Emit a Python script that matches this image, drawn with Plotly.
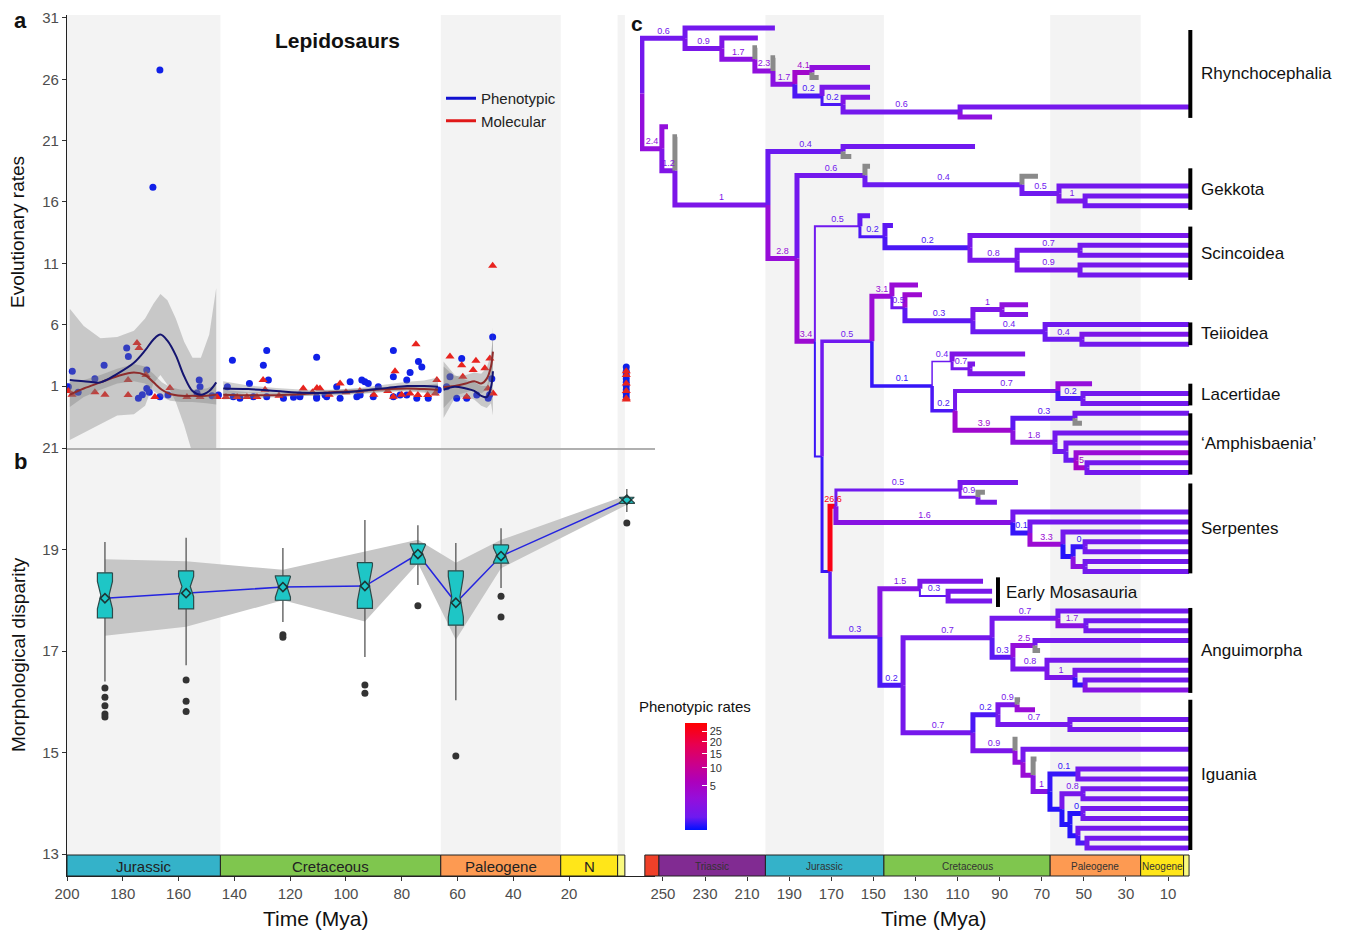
import math
import plotly.graph_objects as go

# the page body adds an 8 px margin, so the figure is laid out in a 1351x925 box starting at (8, 8)
W, H = 1351, 925
OX, OY = 8, 8
FONT = "Liberation Sans, Arial, sans-serif"

# ---------------------------------------------------------------- panel a data
pheno_time = [199.5, 198.1, 196.0, 190.0, 186.7, 178.6, 178.0, 174.4, 173.0, 171.4, 171.4, 170.5, 169.2, 166.7, 166.7, 163.8, 153.4, 152.6, 152.3, 148.0,
              145.7, 142.5, 140.7, 140.4, 138.0, 134.6, 133.2, 129.6, 128.4, 127.8, 128.4, 122.4, 118.8, 116.5, 116.5, 110.5, 110.5, 110.5, 107.5, 106.9,
              103.3, 102.1, 98.5, 96.1, 94.9, 94.3, 93.2, 92.0, 90.2, 88.4, 83.0, 83.0, 83.0, 80.6, 78.2, 78.2, 77.0, 74.6, 74.0, 72.8, 70.5, 66.9,
              63.9, 62.7, 60.3, 58.5, 56.7, 53.1, 49.0, 47.7, 47.4, 48.5,
              -0.5, -0.5, -0.5, -0.5, -0.5, -0.5, -0.5, -0.5, -0.5]
pheno_rate = [0.95, 2.2, 0.5, 1.6, 2.7, 4.1, 3.4, 0.0, 0.3, 0.8, 2.3, 0.5, 17.2, 26.75, 0.13, 0.27, 0.44, 1.5, 0.95, 0.2,
              0.27, 0.95, 3.1, 0.13, 0.0, 1.2, 0.13, 2.7, 3.9, 1.5, 0.13, 0.0, 0.08, 0.13, 0.27, 3.35, 0.0, 0.13, 0.27, 0.13,
              0.95, 0.0, 1.35, 0.13, 0.27, 1.5, 1.35, 1.2, 0.13, 0.95, 3.9, 1.76, 0.13, 0.27, 1.5, 0.27, 2.1, 0.0, 3.0, 2.55, 0.0, 0.67,
              0.95, 1.76, 0.0, 3.25, 0.0, 0.27, 0.0, 1.6, 5.0, 0.3,
              2.55, 2.2, 1.9, 1.6, 1.3, 1.0, 0.7, 0.4, 0.1]
molec_time = [199.5, 198.2, 190.0, 186.4, 178.1, 178.1, 174.9, 174.2, 171.7, 168.5, 163.1, 157.0, 152.3, 146.2,
              143.0, 139.0, 135.5, 131.9, 129.7, 129.0, 124.0, 115.3, 112.0, 110.4, 109.3, 106.0, 102.1, 100.0, 95.0, 90.0, 85.0, 83.0, 82.4, 80.0, 77.0, 74.9, 74.2, 70.7, 68.0, 67.4,
              62.7, 58.5, 58.1, 56.7, 54.4, 53.4, 50.2, 49.1, 48.4, 47.4, 47.2,
              -0.5, -0.5, -0.5, -0.5, -0.5, -0.5]
molec_rate = [0.6, 0.3, 0.5, 0.3, 1.5, 0.27, 4.5, 4.1, 1.9, 0.1, 0.84, 0.1, 0.1, 0.1,
              0.1, 0.1, 0.1, 0.1, 1.5, 0.7, 0.2, 0.8, 0.5, 0.84, 0.8, 0.3, 1.2, 0.5, 0.6, 0.3, 0.6, 0.13, 2.2, 0.3, 0.4, 4.4, 0.27, 0.27, 0.4, 1.5,
              3.4, 2.7, 1.76, 0.13, 2.3, 3.06, 2.45, 0.8, 3.25, 10.8, 0.4,
              2.2, 1.9, 1.2, 0.6, 0.0, -0.1]

# smoothed fits per period segment
ph_j_time = [199, 194, 188, 182, 176, 172, 169, 166.5, 164, 161, 158, 155, 152, 149, 146.5]
ph_j_fit = [1.5, 1.4, 1.3, 2.0, 2.9, 3.9, 4.8, 5.2, 4.7, 3.5, 1.8, 0.6, 0.3, 0.6, 1.3]
ph_j_hi = [7.3, 5.9, 4.9, 5.0, 5.5, 6.5, 7.7, 8.5, 8.0, 6.5, 4.6, 3.3, 3.3, 5.2, 9.0]
ph_j_lo = [-3.4, -2.8, -2.1, -1.4, -1.3, -0.6, 1.2, 1.9, 1.1, -0.3, -2.2, -4.5, -5.0, -5.0, -5.0]
mo_j_time = [199, 194, 188, 182, 176, 172, 169, 166, 163, 159, 155, 150, 146.5]
mo_j_fit = [0.3, 0.8, 1.3, 1.8, 2.1, 1.9, 1.3, 0.7, 0.35, 0.2, 0.2, 0.2, 0.3]
mo_j_hi = [1.3, 1.5, 1.9, 2.4, 2.8, 2.6, 2.0, 1.3, 0.9, 0.7, 0.7, 0.8, 1.1]
mo_j_lo = [-0.7, 0.1, 0.7, 1.2, 1.4, 1.2, 0.6, 0.1, -0.2, -0.3, -0.3, -0.4, -0.5]

cr_time = [144, 135, 125, 115, 105, 95, 85, 78, 72, 67]
ph_c_fit = [0.8, 0.75, 0.6, 0.45, 0.45, 0.6, 0.85, 1.0, 1.0, 0.95]
ph_c_hi = [1.4, 1.05, 0.85, 0.7, 0.7, 0.85, 1.15, 1.35, 1.45, 1.7]
ph_c_lo = [0.2, 0.45, 0.35, 0.2, 0.2, 0.35, 0.55, 0.65, 0.55, 0.2]
mo_c_fit = [0.3, 0.25, 0.25, 0.35, 0.5, 0.6, 0.75, 0.8, 0.75, 0.7]
mo_c_hi = [0.7, 0.5, 0.45, 0.55, 0.7, 0.8, 0.95, 1.05, 1.05, 1.2]
mo_c_lo = [-0.1, 0.0, 0.05, 0.15, 0.3, 0.4, 0.55, 0.55, 0.45, 0.2]

pg_time = [65, 61, 57, 54, 51.5, 49.5, 48, 47.3]
ph_p_fit = [0.7, 0.95, 0.8, 0.6, 0.2, 0.1, 0.9, 2.2]
ph_p_hi = [3.0, 1.9, 1.5, 1.3, 1.0, 1.0, 2.2, 5.8]
ph_p_lo = [-1.6, 0.0, 0.1, -0.1, -0.6, -0.8, -0.4, -1.4]
mo_p_fit = [0.9, 1.0, 1.2, 1.4, 1.2, 1.6, 2.6, 3.8]
mo_p_hi = [2.6, 1.8, 1.9, 2.1, 2.0, 2.5, 3.6, 5.0]
mo_p_lo = [-0.8, 0.2, 0.5, 0.7, 0.4, 0.7, 1.6, 2.6]

# ---------------------------------------------------------------- panel b data
box_time = [186.4, 157.3, 122.6, 93.2, 74.2, 60.6, 44.4, -0.7]
box_upper = [19.15, 19.23, 19.03, 19.58, 19.48, 19.13, 19.42, 20.19]
box_q3 = [18.54, 18.58, 18.48, 18.74, 19.11, 18.58, 19.09, 20.03]
box_median = [18.10, 18.27, 18.26, 18.33, 18.94, 18.07, 18.89, 19.98]
box_q1 = [17.65, 17.83, 18.00, 17.84, 18.71, 17.51, 18.73, 19.91]
box_lower = [16.40, 16.72, 17.57, 16.88, 18.30, 16.03, 18.24, 19.74]
box_notch = [0.27, 0.20, 0.20, 0.35, 0.15, 0.40, 0.14, 0.06]
box_mean = [18.04, 18.14, 18.26, 18.28, 18.91, 17.95, 18.87, 19.98]
band_upper = [18.81, 18.77, 18.60, 18.96, 19.19, 18.74, 19.19, 20.07]
band_lower = [17.30, 17.48, 18.00, 17.58, 18.73, 17.22, 18.63, 19.88]
outlier_time = [186.4, 186.4, 186.4, 186.4, 186.4, 157.3, 157.3, 157.3, 122.6, 122.6, 93.2, 93.2, 74.2, 60.6, 44.4, 44.4, -0.7]
outlier_value = [16.27, 16.09, 15.92, 15.76, 15.70, 16.43, 16.01, 15.81, 17.32, 17.27, 16.33, 16.17, 17.89, 14.93, 18.08, 17.67, 19.52]
BOX_HALF = 2.7      # half box width (Mya)
NOTCH_DEPTH = 0.45  # fraction of half width removed at the median

# geological periods
per_ab_name = ['Jurassic', 'Cretaceous', 'Paleogene', 'N', '']
per_ab_start = [200, 145, 66, 23, 2.6]
per_ab_end = [145, 66, 23, 2.6, 0]
per_ab_color = ['#34B2C9', '#7FC64E', '#FD9A52', '#FFE619', '#F9F97F']
per_c_name = ['', 'Triassic', 'Jurassic', 'Cretaceous', 'Paleogene', 'Neogene', '']
per_c_start = [258.6, 251.9, 201.3, 145, 66, 23, 2.6]
per_c_end = [251.9, 201.3, 145, 66, 23, 2.6, 0]
per_c_color = ['#F04028', '#812B92', '#34B2C9', '#7FC64E', '#FD9A52', '#FFE619', '#F9F97F']
shade_ab_start = [200, 66, 2.6]
shade_ab_end = [145, 23, 0]
shade_c_start = [201.3, 66]
shade_c_end = [145, 23]

# ---------------------------------------------------------------- panel c tree (preorder)
tree_node = [
    'root', 'Rh1', 'tip', 'Rh2', 'tip', 'Rh3', 'tip', 'Rh4', 'tip', 'Rh5', 'Rh6', 'tip', 'tip', 'Rh7', 'tip', 'Rh8', 'tip', 'Rh9', 'tip', 'tip',
    'S1', 'tip', 'S2', 'tip', 'S3', 'S4', 'tip', 'tip', 'S5', 'S6', 'tip', 'Gk0', 'tip', 'Gk1', 'tip', 'Gk2', 'tip', 'tip',
    'S7', 'Sc0', 'tip', 'Sc1', 'tip', 'Sc2', 'tip', 'Sc3', 'Sc4', 'tip', 'tip', 'Sc5', 'tip', 'tip',
    'S8', 'L0', 'Te0', 'tip', 'Te1', 'tip', 'Te2', 'Te3', 'tip', 'tip', 'Te4', 'tip', 'Te5', 'tip', 'tip',
    'L1', 'La0', 'tip', 'La1', 'tip', 'tip', 'La2', 'La3', 'tip', 'La4', 'tip', 'tip', 'Am0', 'Am1', 'tip', 'tip', 'Am2', 'tip', 'Am3', 'tip', 'Am4', 'tip', 'Am5', 'tip', 'tip',
    'S9', 'Se0', 'Se1', 'tip', 'Se2', 'tip', 'tip', 'Se3', 'tip', 'Se4', 'tip', 'Se5', 'tip', 'Se6', 'Se7', 'tip', 'tip', 'Se8', 'tip', 'tip',
    'AI0', 'Mo0', 'tip', 'Mo1', 'tip', 'tip', 'AI1', 'An0', 'An1', 'tip', 'An2', 'tip', 'tip', 'An3', 'An4', 'tip', 'tip', 'An5', 'tip', 'An6', 'tip', 'An7', 'tip', 'tip',
    'Ig0', 'Ig1', 'Ig2', 'tip', 'tip', 'Ig3', 'tip', 'tip', 'Ig4', 'tip', 'Ig5', 'tip', 'Ig6', 'tip', 'Ig7', 'Ig8', 'tip', 'tip', 'Ig9', 'Ig10', 'tip', 'tip', 'Ig11', 'Ig12', 'tip', 'tip', 'Ig13', 'tip', 'Ig14', 'tip', 'tip',
]
tree_parent = [
    None, 'root', 'Rh1', 'Rh1', 'Rh2', 'Rh2', 'Rh3', 'Rh3', 'Rh4', 'Rh4', 'Rh5', 'Rh6', 'Rh6', 'Rh5', 'Rh7', 'Rh7', 'Rh8', 'Rh8', 'Rh9', 'Rh9',
    'root', 'S1', 'S1', 'S2', 'S2', 'S3', 'S4', 'S4', 'S3', 'S5', 'S6', 'S6', 'Gk0', 'Gk0', 'Gk1', 'Gk1', 'Gk2', 'Gk2',
    'S5', 'S7', 'Sc0', 'Sc0', 'Sc1', 'Sc1', 'Sc2', 'Sc2', 'Sc3', 'Sc4', 'Sc4', 'Sc3', 'Sc5', 'Sc5',
    'S7', 'S8', 'L0', 'Te0', 'Te0', 'Te1', 'Te1', 'Te2', 'Te3', 'Te3', 'Te2', 'Te4', 'Te4', 'Te5', 'Te5',
    'L0', 'L1', 'La0', 'La0', 'La1', 'La1', 'L1', 'La2', 'La3', 'La3', 'La4', 'La4', 'La2', 'Am0', 'Am1', 'Am1', 'Am0', 'Am2', 'Am2', 'Am3', 'Am3', 'Am4', 'Am4', 'Am5', 'Am5',
    'S8', 'S9', 'Se0', 'Se1', 'Se1', 'Se2', 'Se2', 'Se0', 'Se3', 'Se3', 'Se4', 'Se4', 'Se5', 'Se5', 'Se6', 'Se7', 'Se7', 'Se6', 'Se8', 'Se8',
    'S9', 'AI0', 'Mo0', 'Mo0', 'Mo1', 'Mo1', 'AI0', 'AI1', 'An0', 'An1', 'An1', 'An2', 'An2', 'An0', 'An3', 'An4', 'An4', 'An3', 'An5', 'An5', 'An6', 'An6', 'An7', 'An7',
    'AI1', 'Ig0', 'Ig1', 'Ig2', 'Ig2', 'Ig1', 'Ig3', 'Ig3', 'Ig0', 'Ig4', 'Ig4', 'Ig5', 'Ig5', 'Ig6', 'Ig6', 'Ig7', 'Ig8', 'Ig8', 'Ig7', 'Ig9', 'Ig10', 'Ig10', 'Ig9', 'Ig11', 'Ig12', 'Ig12', 'Ig11', 'Ig13', 'Ig13', 'Ig14', 'Ig14',
]
tree_age = [
    260.0, 239.5, 196.8, 222.0, 204.9, 206.3, 205.3, 197.7, 196.7, 187.3, 179.2, 151.6, 176.0, 174.4, 151.6, 164.4, 151.6, 108.8, 0, 93.6,
    250.5, 247.6, 244.3, 243.3, 200.1, 164.4, 101.7, 160.5, 186.3, 154.0, 151.6, 79.4, 71.8, 61.8, 0, 49.4, 0, 0,
    177.8, 156.4, 151.6, 144.5, 140.7, 104.1, 0, 81.7, 51.8, 0, 0, 51.8, 0, 0,
    174.4, 150.7, 141.2, 128.8, 135.0, 126.9, 102.7, 88.9, 76.5, 76.5, 68.4, 0, 50.9, 0, 0,
    122.1, 112.6, 77.9, 104.1, 101.7, 77.9, 111.2, 62.3, 46.1, 50.4, 0, 0, 83.7, 54.2, 0, 50.9, 63.7, 0, 58.5, 0, 53.7, 0, 48.5, 0, 0,
    170.6, 167.8, 108.8, 81.3, 100.3, 97.0, 91.3, 83.7, 0, 75.6, 0, 59.9, 0, 55.1, 49.4, 0, 0, 49.4, 0, 0,
    146.9, 127.9, 97.9, 114.5, 93.6, 93.6, 135.9, 93.6, 62.3, 0, 49.0, 0, 0, 83.7, 73.2, 0, 70.8, 67.5, 0, 54.2, 0, 49.4, 0, 0,
    102.7, 90.8, 81.7, 80.3, 73.2, 56.6, 0, 0, 82.7, 81.5, 78.9, 0, 74.1, 72.5, 66.1, 52.8, 0, 0, 60.4, 50.4, 0, 0, 56.6, 50.4, 0, 0, 52.8, 0, 48.5, 0, 0,
]
tree_rate = [
    None, 0.6, 0.6, 0.9, 1.2, 1.7, None, 2.3, None, 1.7, 4.1, 2.2, None, 0.2, 0.9, 0.2, 1.2, 0.6, 0.7, 2.0,
    2.4, 2.4, 1.2, None, 1.0, 0.4, 0.5, None, 2.8, 0.6, None, 0.4, None, 0.5, 0.6, 1.0, 0.6, 0.5,
    3.4, 0.5, 0.35, 0.2, 0.3, 0.2, 0.8, 0.8, 0.7, 0.6, 0.6, 0.9, 0.7, 0.6,
    0.12, 0.5, 3.1, 3.0, 0.5, 3.5, 0.3, 1.0, 2.2, 1.3, 0.4, 0.5, 0.4, 1.0, 0.6,
    0.1, 0.4, 1.2, 0.7, 1.0, 1.0, 0.2, 0.7, 2.5, 0.2, 0.6, 0.6, 3.9, 0.3, 0.6, None, 1.8, 0.6, 0.5, 0.7, 0.4, 3.0, 5.0, 0.6, 0.6,
    0.12, 26.6, 0.5, 0.7, 0.9, None, 0.8, 1.6, 0.6, 0.1, 0.6, 3.3, 0.6, 0.05, 0.1, 0.6, 0.6, 2.0, 0.6, 0.6,
    0.3, 1.5, 1.0, 0.3, 0.8, 0.8, 0.2, 0.7, 0.7, 0.6, 1.7, 0.5, 0.6, 0.3, 2.5, 0.6, None, 0.8, 0.7, 1.0, 0.7, 0.1, 0.6, 1.5,
    0.7, 0.2, 0.9, None, 3.0, 0.7, 0.6, 0.6, 0.9, None, 2.5, 0.7, 3.0, None, 1.5, 0.1, 0.6, 0.6, 0.05, 0.8, 0.6, 0.6, 0.05, 0.05, 0.6, 0.6, 0.05, 0.6, 0.2, 0.6, 0.6,
]
tree_label = [
    '', '0.6', '', '0.9', '', '1.7', '', '2.3', '', '1.7', '4.1', '', '', '0.2', '', '0.2', '', '0.6', '', '',
    '2.4', '', '1.2', '', '1', '0.4', '', '', '2.8', '0.6', '', '0.4', '', '0.5', '', '1', '', '',
    '3.4', '0.5', '', '0.2', '', '0.2', '', '0.8', '0.7', '', '', '0.9', '', '',
    '', '0.5', '3.1', '', '0.5', '', '0.3', '1', '', '', '0.4', '', '0.4', '', '',
    '0.1', '0.4', '', '0.7', '', '', '0.2', '0.7', '', '0.2', '', '', '3.9', '0.3', '', '', '1.8', '', '', '', '', '', '5', '', '',
    '', '26.6', '0.5', '', '0.9', '', '', '1.6', '', '0.1', '', '3.3', '', '', '0', '', '', '', '', '',
    '0.3', '1.5', '', '0.3', '', '', '0.2', '0.7', '0.7', '', '1.7', '', '', '0.3', '2.5', '', '', '0.8', '', '1', '', '', '', '',
    '0.7', '0.2', '0.9', '', '', '0.7', '', '', '0.9', '', '', '', '', '', '1', '0.1', '', '', '', '0.8', '', '', '', '0', '', '', '', '', '', '', '',
]
tree_width = [
    0, 5, 5, 5, 5, 5, 5, 5, 5, 5, 5, 5, 5, 5, 5, 3, 5, 5, 5, 5,
    5, 5, 5, 5, 5, 5, 5, 5, 5, 5, 5, 5, 5, 5, 5, 5, 5, 5,
    5, 2, 5, 3, 5, 5, 5, 5, 5, 5, 5, 5, 5, 5,
    2, 3.5, 5, 5, 3, 5, 5, 5, 5, 5, 5, 5, 5, 5, 5,
    3.5, 1.5, 5, 3, 5, 5, 3.5, 4, 5, 5, 5, 5, 5, 5, 5, 5, 5, 5, 5, 5, 5, 5, 5, 5, 5,
    3, 5, 3, 5, 3, 5, 5, 5, 5, 5, 5, 5, 5, 5, 5, 5, 5, 5, 5, 5,
    3.5, 5, 5, 2, 5, 5, 5, 5, 5, 5, 5, 5, 5, 5, 5, 5, 5, 5, 5, 5, 5, 5, 5, 5,
    5, 5, 5, 5, 5, 5, 5, 5, 5, 5, 5, 5, 5, 5, 5, 5, 5, 5, 5, 5, 5, 5, 5, 5, 5, 5, 5, 5, 5, 5, 5,
]

clade_name = ['Rhynchocephalia', 'Gekkota', 'Scincoidea', 'Teiioidea', 'Lacertidae', '\u2018Amphisbaenia\u2019',
              'Serpentes', 'Early Mosasauria', 'Anguimorpha', 'Iguania']
clade_row_top = [0.2, 14.2, 20.1, 29.8, 36.0, 39.0, 46.1, 55.6, 58.7, 68.0]
clade_row_bottom = [9.1, 18.4, 25.5, 32.1, 38.2, 45.2, 55.2, 58.6, 67.3, 83.2]
clade_bar_age = [-0.6, -0.6, -0.6, -0.6, -0.6, -0.6, -0.6, 90.8, -0.6, -0.6]
clade_text_age = [-4.6, -4.6, -4.6, -4.6, -4.6, -4.6, -4.6, 87.9, -4.6, -4.6]

colorbar_ticks = [5, 10, 15, 20, 25]
RATE_MAX = 29.5

# ---------------------------------------------------------------- helpers
N = len(tree_node)
assert all(len(a) == N for a in [tree_parent, tree_age, tree_rate, tree_label, tree_width])

stops = [0.0, 0.12, 0.3, 0.45, 0.6, 0.8, 1.0]
stop_rgb = [(0, 16, 255), (110, 26, 240), (150, 14, 218), (172, 0, 188), (200, 0, 144), (232, 0, 80), (255, 0, 0)]
colorscale = [[s, 'rgb(%d,%d,%d)' % c] for s, c in zip(stops, stop_rgb)]
SMAX = math.sqrt(RATE_MAX)


def rate_color(r):
    if r is None:
        return '#8a8a8a'
    f = min(1.0, math.sqrt(max(r, 0)) / SMAX)
    for k in range(len(stops) - 1):
        if stops[k] <= f <= stops[k + 1]:
            t = (f - stops[k]) / (stops[k + 1] - stops[k])
            a, b = stop_rgb[k], stop_rgb[k + 1]
            return 'rgb(%d,%d,%d)' % tuple(round(a[i] + (b[i] - a[i]) * t) for i in range(3))
    return 'rgb(255,0,0)'


def px(p):
    return (p - OX) / W


def py(p):
    return 1 - (p - OY) / H


fig = go.Figure()

# ---------------------------------------------------------------- panel a traces
fig.add_trace(go.Scatter(x=pheno_time, y=pheno_rate, mode='markers', xaxis='x', yaxis='y',
                         marker=dict(symbol='circle', size=7, color='#1020e8'), showlegend=False, hoverinfo='skip'))
fig.add_trace(go.Scatter(x=molec_time, y=molec_rate, mode='markers', xaxis='x', yaxis='y',
                         marker=dict(symbol='triangle-up', size=8, color='#e8231e'), showlegend=False, hoverinfo='skip'))

ribbons = [(ph_j_time, ph_j_hi, ph_j_lo), (mo_j_time, mo_j_hi, mo_j_lo),
           (cr_time, ph_c_hi, ph_c_lo), (cr_time, mo_c_hi, mo_c_lo),
           (pg_time, ph_p_hi, ph_p_lo), (pg_time, mo_p_hi, mo_p_lo)]
for tt, hi, lo in ribbons:
    fig.add_trace(go.Scatter(x=list(tt) + list(tt)[::-1], y=list(hi) + list(lo)[::-1], fill='toself',
                             fillcolor='rgba(120,120,120,0.35)', line=dict(width=0), mode='lines',
                             xaxis='x', yaxis='y', showlegend=False, hoverinfo='skip'))

ph_t = ph_j_time + [None] + cr_time + [None] + pg_time
ph_v = ph_j_fit + [None] + ph_c_fit + [None] + ph_p_fit
mo_t = mo_j_time + [None] + cr_time + [None] + pg_time
mo_v = mo_j_fit + [None] + mo_c_fit + [None] + mo_p_fit
fig.add_trace(go.Scatter(x=mo_t, y=mo_v, mode='lines', line=dict(color='#8e2c2c', width=2, shape='spline'),
                         xaxis='x', yaxis='y', showlegend=False, hoverinfo='skip', connectgaps=False))
fig.add_trace(go.Scatter(x=ph_t, y=ph_v, mode='lines', line=dict(color='#141470', width=2, shape='spline'),
                         xaxis='x', yaxis='y', showlegend=False, hoverinfo='skip', connectgaps=False))
fig.add_trace(go.Scatter(x=[None], y=[None], mode='lines', name='Phenotypic', line=dict(color='#1010d0', width=3),
                         xaxis='x', yaxis='y'))
fig.add_trace(go.Scatter(x=[None], y=[None], mode='lines', name='Molecular', line=dict(color='#e01818', width=3),
                         xaxis='x', yaxis='y'))

# ---------------------------------------------------------------- panel b traces
fig.add_trace(go.Scatter(x=box_time + box_time[::-1], y=band_upper + band_lower[::-1], fill='toself',
                         fillcolor='#c6c6c6', line=dict(width=0), mode='lines', xaxis='x2', yaxis='y2',
                         showlegend=False, hoverinfo='skip'))
fig.add_trace(go.Scatter(x=box_time, y=box_mean, mode='lines', line=dict(color='#2424e0', width=1.5),
                         xaxis='x2', yaxis='y2', showlegend=False, hoverinfo='skip'))
wx, wy = [], []
for t, lo, q1, q3, hi in zip(box_time, box_lower, box_q1, box_q3, box_upper):
    wx += [t, t, None, t, t, None]
    wy += [q3, hi, None, lo, q1, None]
fig.add_trace(go.Scatter(x=wx, y=wy, mode='lines', line=dict(color='#555555', width=1.3),
                         xaxis='x2', yaxis='y2', showlegend=False, hoverinfo='skip'))
for t, q1, m, q3, n in zip(box_time, box_q1, box_median, box_q3, box_notch):
    top = min(q3, m + n)
    bot = max(q1, m - n)
    inner = BOX_HALF * (1 - NOTCH_DEPTH)
    bx = [t - BOX_HALF, t - BOX_HALF, t - inner, t - BOX_HALF, t - BOX_HALF,
          t + BOX_HALF, t + BOX_HALF, t + inner, t + BOX_HALF, t + BOX_HALF, t - BOX_HALF]
    by = [q3, top, m, bot, q1, q1, bot, m, top, q3, q3]
    fig.add_trace(go.Scatter(x=bx, y=by, mode='lines', fill='toself', fillcolor='#1ec6c6',
                             line=dict(color='#2c4a4a', width=1.2), xaxis='x2', yaxis='y2',
                             showlegend=False, hoverinfo='skip'))
fig.add_trace(go.Scatter(x=box_time, y=box_mean, mode='markers',
                         marker=dict(symbol='diamond-open', size=7, color='#1d3535', line=dict(width=1.6)),
                         xaxis='x2', yaxis='y2', showlegend=False, hoverinfo='skip'))
fig.add_trace(go.Scatter(x=outlier_time, y=outlier_value, mode='markers', marker=dict(size=7, color='#333333'),
                         xaxis='x2', yaxis='y2', showlegend=False, hoverinfo='skip'))

# ---------------------------------------------------------------- panel c tree
idx = {n: i for i, n in enumerate(tree_node) if n != 'tip'}
children = {i: [] for i in range(N)}
for i, p in enumerate(tree_parent):
    if p is not None:
        children[idx[p]].append(i)
ys = [0.0] * N
row = 0
for i in range(N):
    if not children[i]:
        ys[i] = row
        row += 1
for i in reversed(range(N)):
    if children[i]:
        ys[i] = sum(ys[c] for c in children[i]) / len(children[i])

lab_x, lab_y, lab_t, lab_c = [], [], [], []
mid_x, mid_y, mid_c = [], [], []
for i in range(N):
    p = tree_parent[i]
    if p is None:
        continue
    pi = idx[p]
    col = rate_color(tree_rate[i])
    fig.add_trace(go.Scatter(x=[tree_age[pi], tree_age[pi], tree_age[i]], y=[ys[pi], ys[i], ys[i]],
                             mode='lines', line=dict(color=col, width=tree_width[i]),
                             xaxis='x3', yaxis='y3', showlegend=False, hoverinfo='skip'))
    xm = (tree_age[pi] + tree_age[i]) / 2
    if tree_label[i]:
        lab_x.append(xm)
        lab_y.append(ys[i] - 0.7)
        lab_t.append(tree_label[i])
        lab_c.append(col)
    if tree_rate[i] is not None:
        mid_x.append(xm)
        mid_y.append(ys[i])
        mid_c.append(math.sqrt(tree_rate[i]))

fig.add_trace(go.Scatter(x=lab_x, y=lab_y, text=lab_t, mode='text', textfont=dict(size=9, color=lab_c, family=FONT),
                         xaxis='x3', yaxis='y3', showlegend=False, hoverinfo='skip'))
fig.add_trace(go.Scatter(
    x=mid_x, y=mid_y, mode='markers', xaxis='x3', yaxis='y3', showlegend=False, hoverinfo='skip',
    marker=dict(size=1, opacity=0, color=mid_c, cmin=0, cmax=SMAX, colorscale=colorscale, showscale=True,
                colorbar=dict(x=px(685), xanchor='left', y=py(830), yanchor='bottom', len=107 / H, lenmode='fraction',
                              thickness=22, thicknessmode='pixels', outlinewidth=0, xpad=0, ypad=0,
                              tickvals=[math.sqrt(v) for v in colorbar_ticks], ticktext=[str(v) for v in colorbar_ticks],
                              ticks='inside', ticklen=5, tickcolor='white',
                              tickfont=dict(size=11, color='#333', family=FONT)))))

# ---------------------------------------------------------------- shapes & annotations
shapes = []
ann = []
for s, e in zip(shade_ab_start, shade_ab_end):
    shapes.append(dict(type='rect', xref='x', yref='paper', x0=s, x1=e, y0=py(855), y1=py(15),
                       fillcolor='#f3f3f3', line=dict(width=0), layer='below'))
for s, e in zip(shade_c_start, shade_c_end):
    shapes.append(dict(type='rect', xref='x3', yref='paper', x0=s, x1=e, y0=py(855), y1=py(15),
                       fillcolor='#f3f3f3', line=dict(width=0), layer='below'))
for nm, s, e, c in zip(per_ab_name, per_ab_start, per_ab_end, per_ab_color):
    shapes.append(dict(type='rect', xref='x2', yref='paper', x0=s, x1=e, y0=py(876), y1=py(855),
                       fillcolor=c, line=dict(color='#222', width=1)))
    if nm:
        ann.append(dict(text=nm, x=(s + e) / 2, y=py(866), xref='x2', yref='paper', showarrow=False,
                        xanchor='center', yanchor='middle', font=dict(size=15, color='#222', family=FONT)))
for nm, s, e, c in zip(per_c_name, per_c_start, per_c_end, per_c_color):
    shapes.append(dict(type='rect', xref='x3', yref='paper', x0=s, x1=e, y0=py(876), y1=py(855),
                       fillcolor=c, line=dict(color='#222', width=1)))
    if nm:
        ann.append(dict(text=nm, x=(s + e) / 2, y=py(866), xref='x3', yref='paper', showarrow=False,
                        xanchor='center', yanchor='middle', font=dict(size=10, color='#333', family=FONT)))
for nm, t0, t1, xa, xt in zip(clade_name, clade_row_top, clade_row_bottom, clade_bar_age, clade_text_age):
    shapes.append(dict(type='line', xref='x3', yref='y3', x0=xa, x1=xa, y0=t0, y1=t1, line=dict(color='black', width=4)))
    ann.append(dict(text=nm, x=xt, y=(t0 + t1) / 2, xref='x3', yref='y3', showarrow=False, xanchor='left',
                    yanchor='middle', font=dict(size=17, color='#111', family=FONT)))


def add_text(text, xp, yp, size, bold=False, angle=0, color='#111'):
    ann.append(dict(text=('<b>%s</b>' % text) if bold else text, x=px(xp), y=py(yp), xref='paper', yref='paper',
                    showarrow=False, textangle=angle, xanchor='center', yanchor='middle',
                    font=dict(size=size, color=color, family=FONT)))


add_text('a', 20, 21, 22, bold=True)
add_text('b', 20, 461, 22, bold=True)
add_text('c', 637, 23, 21, bold=True)
add_text('Lepidosaurs', 337, 41, 21, bold=True)
add_text('Evolutionary rates', 18, 232, 19, angle=-90)
add_text('Morphological disparity', 18, 655, 19, angle=-90)
add_text('Time (Mya)', 315, 918, 21)
add_text('Time (Mya)', 933, 918, 21)
add_text('Phenotypic rates', 695, 706, 15)

tick_font = dict(size=15, color='#4d4d4d', family=FONT)
fig.update_layout(
    width=W, height=H, margin=dict(l=0, r=0, t=0, b=0, autoexpand=False), paper_bgcolor='white',
    plot_bgcolor='rgba(0,0,0,0)', shapes=shapes, annotations=ann, font=dict(family=FONT),
    legend=dict(x=px(441), y=py(82), xanchor='left', yanchor='top', bgcolor='rgba(0,0,0,0)',
                font=dict(size=15, color='#222', family=FONT), tracegroupgap=0),
    xaxis=dict(domain=[px(67), px(655)], range=[200, -10.8], anchor='y', showticklabels=False, ticks='',
               showline=True, linecolor='#b0b0b0', linewidth=1.5, showgrid=False, zeroline=False, automargin=False),
    yaxis=dict(domain=[py(448), py(15)], range=[-4.05, 31.24], anchor='x', tickvals=[1, 6, 11, 16, 21, 26, 31],
               ticks='outside', ticklen=4, tickcolor='#333', showline=True, linecolor='#222', linewidth=1.2,
               showgrid=False, zeroline=False, tickfont=tick_font, automargin=False),
    xaxis2=dict(domain=[px(67), px(655)], range=[200, -10.8], anchor='y2', tickvals=list(range(200, 0, -20)),
                ticks='outside', ticklen=4, tickcolor='#333', showline=True, linecolor='#222', linewidth=1.2,
                showgrid=False, zeroline=False, tickfont=tick_font, automargin=False),
    yaxis2=dict(domain=[py(876), py(448)], range=[12.567, 21], anchor='x2', tickvals=[13, 15, 17, 19, 21],
                ticks='outside', ticklen=4, tickcolor='#333', showline=True, linecolor='#222', linewidth=1.2,
                showgrid=False, zeroline=False, tickfont=tick_font, automargin=False),
    xaxis3=dict(domain=[px(640), px(1200)], range=[260.9, -5.2], anchor='y3', tickvals=list(range(250, 0, -20)),
                ticks='outside', ticklen=4, tickcolor='#333', showline=False, showgrid=False, zeroline=False,
                tickfont=tick_font, automargin=False),
    yaxis3=dict(domain=[py(876), py(15)], range=[85.83, -1.316], anchor='x3', visible=False, automargin=False),
)

fig.write_html('out.html')
